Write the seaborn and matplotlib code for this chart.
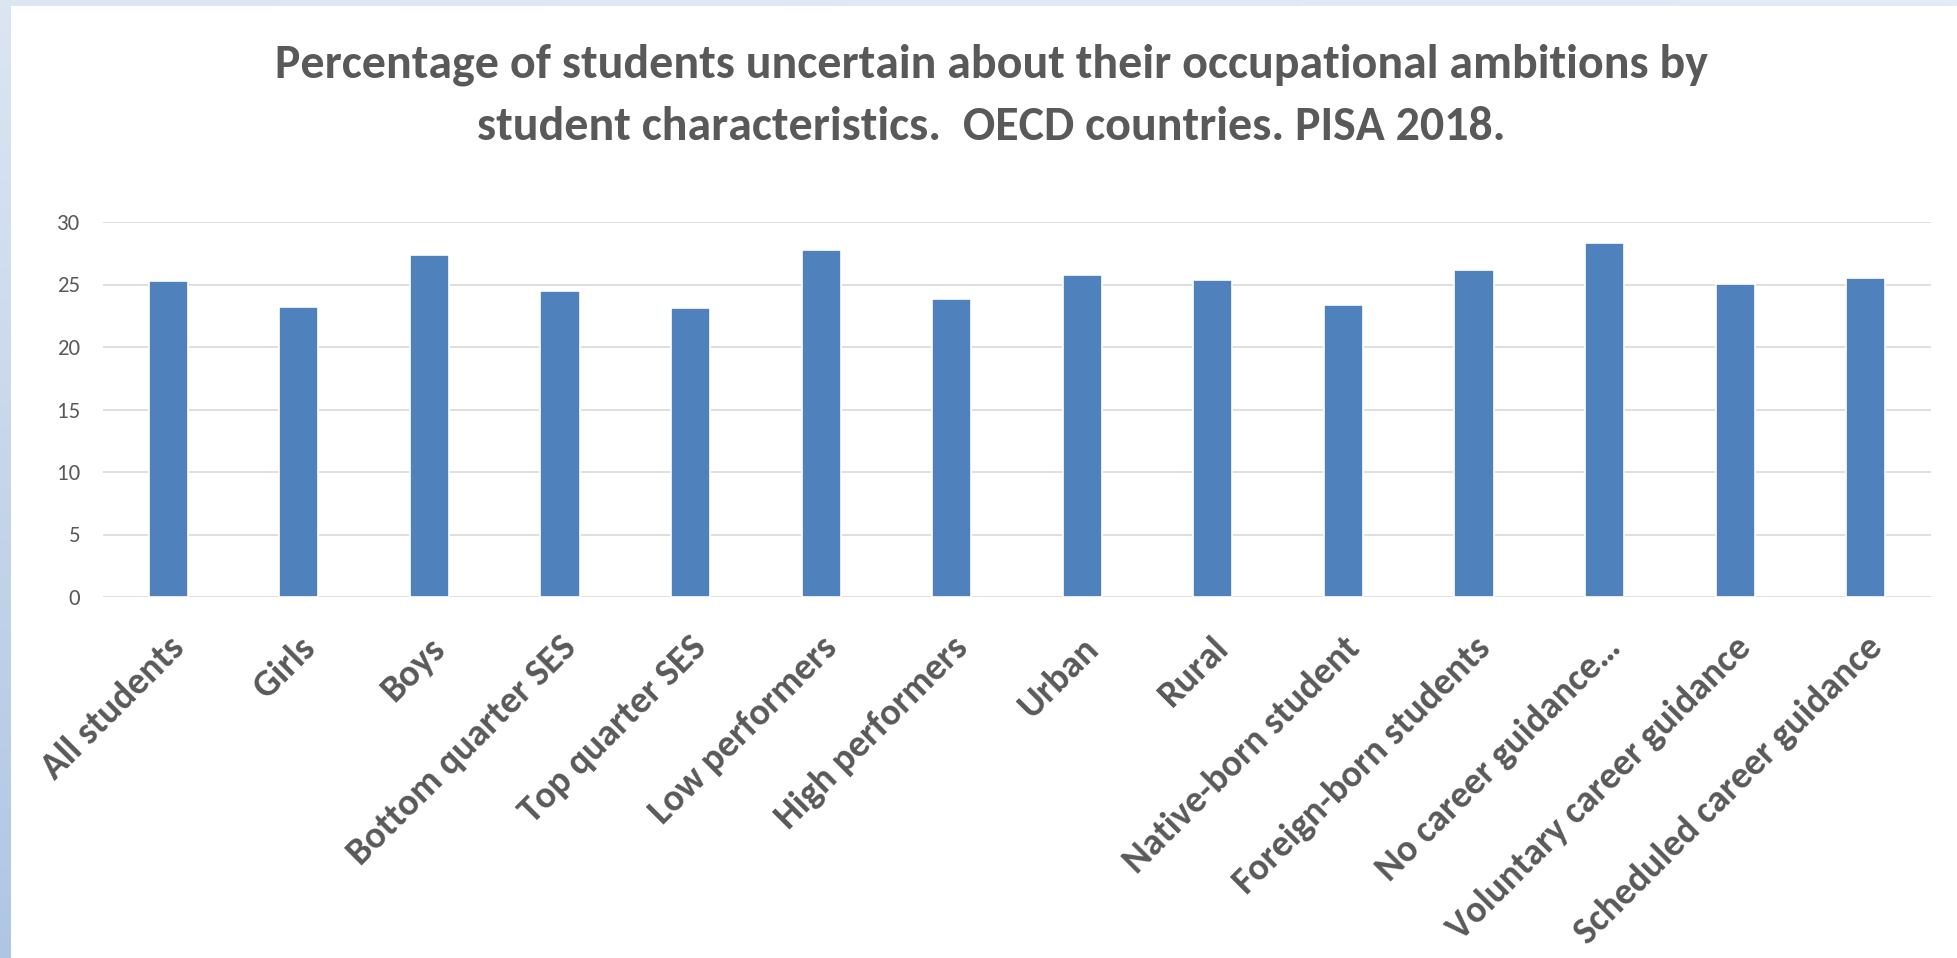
import matplotlib
matplotlib.use("Agg")
import matplotlib.pyplot as plt
import seaborn as sns
import numpy as np
from matplotlib import font_manager
from matplotlib import transforms as mtransforms
from matplotlib.colors import LinearSegmentedColormap

# ---------------- data ----------------
categories = [
    "All students", "Girls", "Boys", "Bottom quarter SES", "Top quarter SES",
    "Low performers", "High performers", "Urban", "Rural", "Native-born student",
    "Foreign-born students", "No career guidance\u2026", "Voluntary career guidance",
    "Scheduled career guidance",
]
values = [25.3, 23.2, 27.4, 24.5, 23.1, 27.75, 23.85, 25.75, 25.35, 23.4,
          26.2, 28.35, 25.05, 25.55]
y_ticks = [0, 5, 10, 15, 20, 25, 30]
title_lines = [
    "Percentage of students uncertain about their occupational ambitions by",
    "student characteristics.  OECD countries. PISA 2018.",
]

# ---------------- style ----------------
sns.set_style("white")
available = {f.name for f in font_manager.fontManager.ttflist}
FONT = "DejaVu Sans"
for cand in ["Carlito", "Calibri", "Lato", "Open Sans", "Noto Sans"]:
    if cand in available:
        FONT = cand
        break
plt.rcParams["font.family"] = [FONT, "DejaVu Sans"]

TEXT = "#595959"
BAR = "#4F81BD"
GRID = "#D9D9D9"

W, H = 1957, 958
fig = plt.figure(figsize=(W / 100, H / 100), dpi=100)
fig.patch.set_facecolor("white")
renderer = fig.canvas.get_renderer()


def width_px(s, size, weight="bold"):
    t = fig.text(0, 0, s, fontsize=size, fontweight=weight)
    w = t.get_window_extent(renderer).width
    t.remove()
    return w


title_size = 31 * 1428 / width_px(title_lines[0], 31)
tick_size = 26 * 420 / width_px("Scheduled career guidance", 26)

# ---------------- decorative border ----------------
grad = np.linspace(0, 1, 256).reshape(-1, 1)
cmap_left = LinearSegmentedColormap.from_list("lb", ["#DCE6F2", "#AFC6E3"])
axl = fig.add_axes([0, 0, 11 / W, 1])
axl.imshow(grad, aspect="auto", cmap=cmap_left, extent=[0, 1, 0, 1], origin="upper")
axl.set_axis_off()
axt = fig.add_axes([0, 1 - 6 / H, 1, 6 / H])
axt.imshow(np.linspace(0, 1, 256).reshape(1, -1), aspect="auto",
           cmap=LinearSegmentedColormap.from_list("tb", ["#DCE6F2", "#E3EBF5"]),
           extent=[0, 1, 0, 1])
axt.set_axis_off()

# ---------------- chart ----------------
ax = fig.add_axes([103 / W, 361 / H, (1931 - 103) / W, 375 / H])
sns.barplot(x=categories, y=values, color=BAR, saturation=1, width=0.30,
            edgecolor="white", linewidth=1.2, ax=ax, zorder=3)
ax.set_ylim(0, 30)
ax.set_xlim(-0.5, len(categories) - 0.5)
ax.set_yticks(y_ticks)
ax.set_yticklabels([str(v) for v in y_ticks])
ax.yaxis.grid(True, color=GRID, linewidth=1.2, zorder=0)
ax.xaxis.grid(False)
ax.set_axisbelow(True)
for s in ax.spines.values():
    s.set_visible(False)
ax.set_xlabel("")
ax.set_ylabel("")
ax.tick_params(axis="y", length=0, pad=16.5, labelsize=16.5, labelcolor=TEXT)
ax.tick_params(axis="x", length=0, pad=38, labelsize=tick_size, labelcolor=TEXT)

offset = mtransforms.ScaledTranslation(18 / 100, 0, fig.dpi_scale_trans)
for lab in ax.get_xticklabels():
    lab.set_rotation(45)
    lab.set_ha("right")
    lab.set_va("baseline")
    lab.set_rotation_mode("anchor")
    lab.set_fontweight("bold")
    lab.set_transform(lab.get_transform() + offset)

# ---------------- title ----------------
for i, line in enumerate(title_lines):
    fig.text(991 / W, 1 - (77 + 63 * i) / H, line, ha="center", va="baseline",
             fontsize=title_size, fontweight="bold", color=TEXT)

fig.savefig("out.png", dpi=100, facecolor="white")
